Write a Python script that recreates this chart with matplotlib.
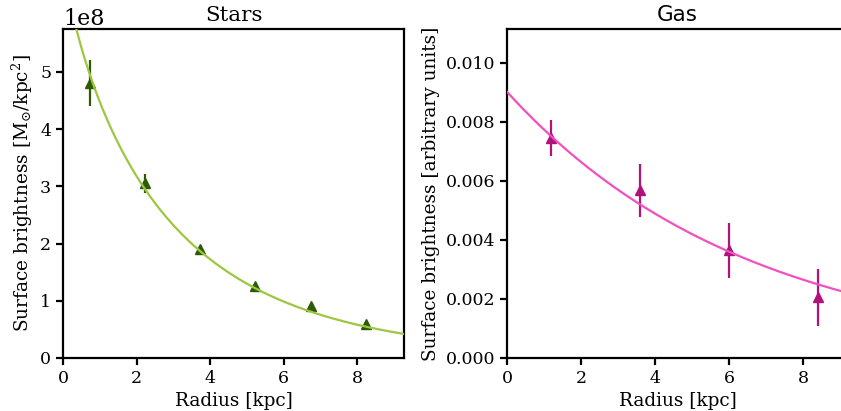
import numpy as np
import matplotlib
matplotlib.use("Agg")
import matplotlib.pyplot as plt

# Stellar surface brightness profile (M_sun / kpc^2)
stars_r = [0.73, 2.23, 3.73, 5.23, 6.73, 8.23]
stars_sb = [4.8e8, 3.05e8, 1.9e8, 1.25e8, 0.9e8, 0.59e8]
stars_err = [0.4e8, 0.17e8, 0.06e8, 0.04e8, 0.03e8, 0.02e8]
# Sersic fit parameters for the stellar profile
stars_sigma0 = 6.94e8
stars_scale = 2.69
stars_n = 1.2

# Gas surface brightness profile (arbitrary units)
gas_r = [1.2, 3.6, 6.0, 8.4]
gas_sb = [0.00745, 0.00568, 0.00365, 0.00205]
gas_err = [0.0006, 0.0009, 0.00093, 0.00098]
# Exponential fit parameters for the gas profile
gas_sigma0 = 0.00902
gas_scale = 6.54

plt.rcParams["font.family"] = "DejaVu Serif"
plt.rcParams["mathtext.fontset"] = "dejavuserif"

fig = plt.figure(figsize=(8.41, 4.11), dpi=100)
ax1 = fig.add_axes([0.0749, 0.129, 0.4055, 0.8004])
ax2 = fig.add_axes([0.6029, 0.129, 0.4055, 0.8004])

r_model = np.linspace(0, 9.5, 300)

# Stars panel
ax1.errorbar(stars_r, stars_sb, yerr=stars_err, fmt="^", color="#2e5a05",
             ms=7, elinewidth=1.6, capsize=0, zorder=2)
ax1.plot(r_model,
         stars_sigma0 * np.exp(-(r_model / stars_scale) ** (1.0 / stars_n)),
         color="#9cc740", lw=1.6, zorder=3)
ax1.set_xlim(0, 9.27)
ax1.set_ylim(0, 5.75e8)
ax1.set_xticks([0, 2, 4, 6, 8])
ax1.set_title("Stars", fontsize=15.4)
ax1.set_xlabel("Radius [kpc]", fontsize=13.3)
ax1.set_ylabel(r"Surface brightness [M$_{\odot}$/kpc$^{2}$]", fontsize=13.3)
ax1.yaxis.get_offset_text().set_fontsize(16)

# Gas panel
ax2.errorbar(gas_r, gas_sb, yerr=gas_err, fmt="^", color="#b0137a",
             ms=7, elinewidth=1.6, capsize=0, zorder=2)
ax2.plot(r_model, gas_sigma0 * np.exp(-r_model / gas_scale),
         color="#f050c0", lw=1.6, zorder=3)
ax2.set_xlim(0, 9.22)
ax2.set_ylim(0, 0.01115)
ax2.set_xticks([0, 2, 4, 6, 8])
ax2.set_yticks([0, 0.002, 0.004, 0.006, 0.008, 0.010])
ax2.set_title("Gas", fontsize=15.4, family="DejaVu Sans")
ax2.set_xlabel("Radius [kpc]", fontsize=13.3)
ax2.set_ylabel("Surface brightness [arbitrary units]", fontsize=13.3)

for ax in (ax1, ax2):
    for s in ax.spines.values():
        s.set_linewidth(1.6)
    ax.tick_params(labelsize=12.5, width=1.6, length=5)

fig.savefig("out.png", dpi=100)
